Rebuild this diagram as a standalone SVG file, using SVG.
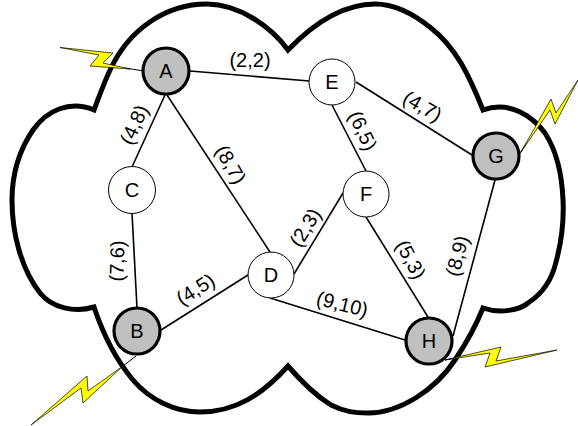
<svg xmlns="http://www.w3.org/2000/svg" width="578" height="426" viewBox="0 0 578 426">
<style>
.cloud{fill:none;stroke:#000;stroke-width:5;stroke-linejoin:miter}
.c line{stroke:#000;stroke-width:1.6}
.bolt{fill:#ff0;stroke:#000;stroke-width:.7;stroke-linejoin:miter}
.n{fill:#fff;stroke:#000;stroke-width:1}
.g{fill:#c0c0c0;stroke:#000;stroke-width:3.2}
text{font-family:"Liberation Sans",Arial,sans-serif;font-size:20px;fill:#000;text-anchor:middle}
</style>
<path class="cloud" d="M288 50C272 28 240 4 207 4C165 4 130 30 112 66C104 82 99 97 94 110C70 100 47 110 33 130C18 152 12 175 12 200C12 235 22 270 40 293C52 308 75 313 94 307C100 325 112 355 133 380C150 400 175 412 200 412C235 412 262 395 288 366C300 380 315 395 331 405C345 412 355 413 368 413C400 413 435 390 455 360C465 345 475 328 483 308C500 314 520 310 528 303C542 294 552 279 556 262C562 240 564 220 563 200C562 175 556 150 545 133C533 117 510 100 483 110C475 90 468 75 461 63C450 45 440 35 431 28C415 15 395 4 375 4C345 4 315 22 288 50Z"/>
<g class="c" id="connectors">
<line x1="190" y1="71" x2="309" y2="81"/>
<line x1="165" y1="95" x2="132" y2="167"/>
<line x1="167" y1="95" x2="270" y2="252"/>
<line x1="132" y1="213" x2="137" y2="308"/>
<line x1="161" y1="330" x2="248" y2="275"/>
<line x1="270" y1="298" x2="405" y2="340"/>
<line x1="294" y1="274" x2="343" y2="193"/>
<line x1="332" y1="105" x2="366" y2="171"/>
<line x1="356" y1="82" x2="472" y2="155"/>
<line x1="366" y1="217" x2="428" y2="317"/>
<line x1="495" y1="180" x2="453" y2="336"/>
</g>
<g id="bolt-a"><line x1="125" y1="68" x2="144" y2="71" stroke="#000" stroke-width="1"/><polygon class="bolt" points="60,47.500 113,53 103,63 130,69 90,66 99,55"/></g>
<g id="bolt-g"><line x1="519" y1="155" x2="527" y2="142" stroke="#000" stroke-width="1"/><polygon class="bolt" points="521,152 551,99 556,113 578,80 555,124 550,110"/></g>
<g id="bolt-b"><line x1="123" y1="366" x2="136" y2="356" stroke="#000" stroke-width="1"/><polygon class="bolt" points="31,425 87,376 88,391 123,366 83,403 81,388"/></g>
<g id="bolt-h"><line x1="445" y1="360" x2="460" y2="357" stroke="#000" stroke-width="1"/><polygon class="bolt" points="445,360 501,347 496,361 557,350 485,367 490,353"/></g>
<g id="A"><circle class="g" cx="166" cy="71" r="23"/><text x="166" y="78">A</text></g>
<g id="E"><circle class="n" cx="332" cy="82" r="23"/><text x="332" y="89">E</text></g>
<g id="C"><circle class="n" cx="132" cy="190" r="23.500"/><text x="132" y="197">C</text></g>
<g id="D"><circle class="n" cx="271" cy="275" r="23"/><text x="271" y="282">D</text></g>
<g id="F"><circle class="n" cx="366" cy="194" r="23"/><text x="366" y="201">F</text></g>
<g id="G"><circle class="g" cx="496" cy="156" r="23"/><text x="496" y="163">G</text></g>
<g id="H"><circle class="g" cx="429" cy="341" r="23"/><text x="429" y="348">H</text></g>
<g id="B"><circle class="g" cx="137" cy="331" r="23"/><text x="137" y="338">B</text></g>
<g id="labels">
<text x="250" y="67">(2,2)</text>
<text transform="translate(135 125) rotate(-65)" y="6">(4,8)</text>
<text transform="translate(230 165) rotate(60)" y="6">(8,7)</text>
<text transform="translate(118 261) rotate(-88)" y="6">(7,6)</text>
<text transform="translate(196 290) rotate(-32)" y="6">(4,5)</text>
<text transform="translate(342 305) rotate(14)" y="6">(9,10)</text>
<text transform="translate(306 228) rotate(-58)" y="6">(2,3)</text>
<text transform="translate(362 131) rotate(65)" y="6">(6,5)</text>
<text transform="translate(422 107) rotate(30)" y="6">(4,7)</text>
<text transform="translate(410 260) rotate(62)" y="6">(5,3)</text>
<text transform="translate(458 256) rotate(-75)" y="6">(8,9)</text>
</g>
</svg>
